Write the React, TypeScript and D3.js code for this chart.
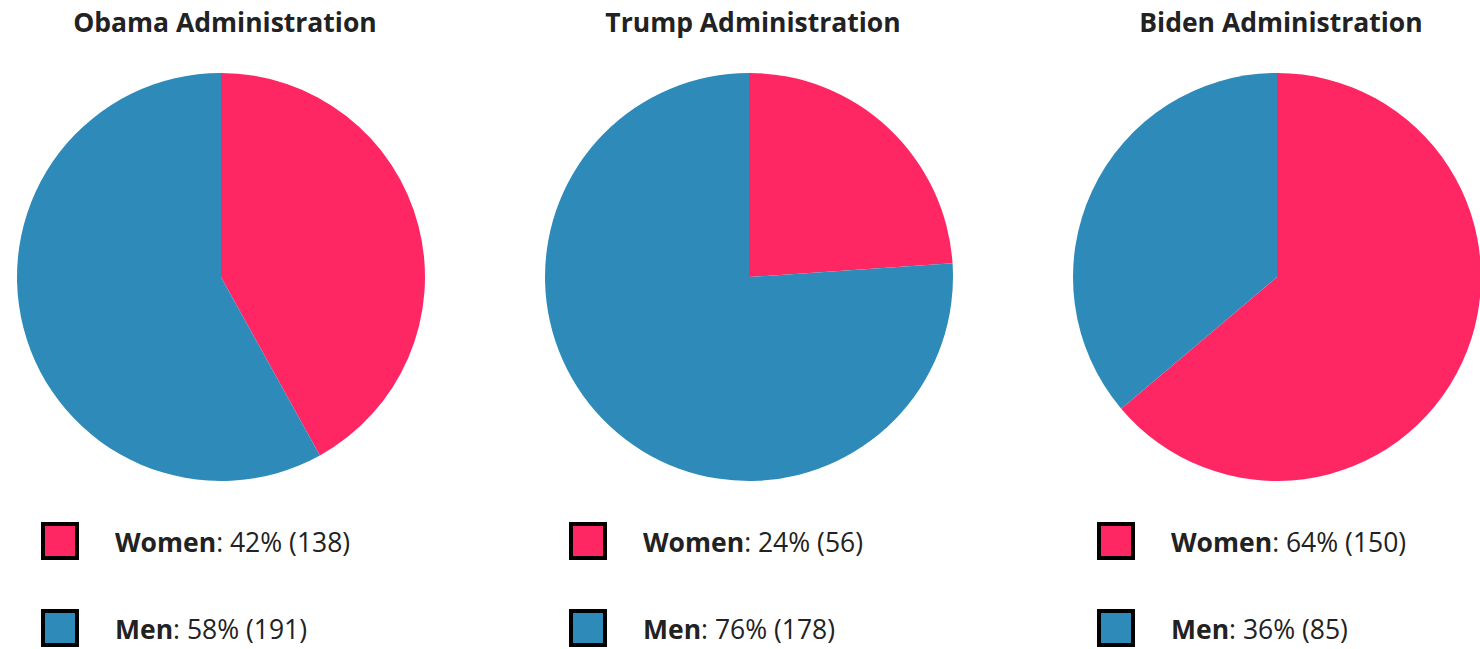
import React from "react";
import * as d3 from "d3";

const administrations = ["Obama Administration", "Trump Administration", "Biden Administration"];
const categories = ["Women", "Men"];
const womenCounts = [138, 56, 150];
const menCounts = [191, 178, 85];
const womenPct = [42, 24, 64];
const menPct = [58, 76, 36];

const colors = ["#FF2664", "#2E8BB9"];

export default function App() {
  const W = 1480, H = 649;
  const r = 204;
  const cy = 277;
  const xScale = d3.scalePoint<number>().domain([0, 1, 2]).range([221, 1277]);
  const pie = d3.pie<number>().sort(null).value((d) => d);
  const arc = d3.arc<d3.PieArcDatum<number>>().innerRadius(0).outerRadius(r);
  return (
    <svg width={W} height={H} style={{ position: "absolute", left: 0, top: 0 }} fontFamily="'Open Sans', sans-serif">
      {administrations.map((name, i) => {
        const cx = xScale(i)!;
        const arcs = pie([womenCounts[i], menCounts[i]]);
        const pcts = [womenPct[i], menPct[i]];
        const counts = [womenCounts[i], menCounts[i]];
        return (
          <g key={name}>
            <text x={cx + 4} y={32} textAnchor="middle" fontWeight="bold" fontSize={26.5} fill="#222">{name}</text>
            <g transform={`translate(${cx},${cy})`}>
              {arcs.map((a, j) => (
                <path key={j} d={arc(a)!} fill={colors[j]} />
              ))}
            </g>
            {categories.map((c, j) => {
              const y = 524 + j * 87;
              return (
                <g key={c}>
                  <rect x={cx - 178} y={y} width={34} height={34} fill={colors[j]} stroke="#000" strokeWidth={4} />
                  <text x={cx - 106} y={y + 28} fontSize={26.5} fill="#222">
                    <tspan fontWeight="bold">{c}</tspan>
                    <tspan>{`: ${pcts[j]}% (${counts[j]})`}</tspan>
                  </text>
                </g>
              );
            })}
          </g>
        );
      })}
    </svg>
  );
}
